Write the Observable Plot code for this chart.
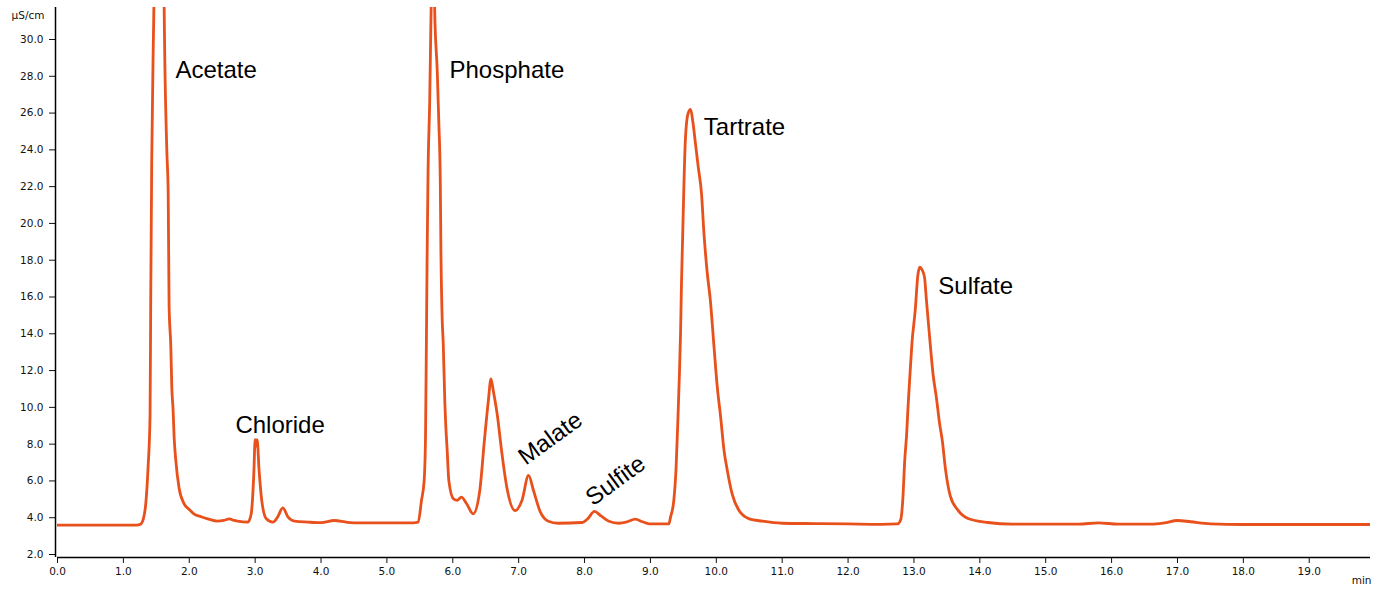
<!DOCTYPE html>
<html>
<head>
<meta charset="utf-8">
<script src="https://cdn.jsdelivr.net/npm/d3@7"></script>
<script src="https://cdn.jsdelivr.net/npm/@observablehq/plot@0.6"></script>
<style>
  html, body { margin: 0; padding: 0; background: #fff; }
  #chart svg { display: block; }
</style>
</head>
<body>
<div id="chart"></div>
<script>
// Retention time (min) and conductivity (µS/cm)
const times = [
  0.0, 1.20, 1.26, 1.30, 1.34, 1.375, 1.405, 1.415, 1.43, 1.46, 1.50, 1.56, 1.60,
  1.62, 1.66, 1.68, 1.694, 1.72, 1.735, 1.755, 1.77, 1.796, 1.846, 1.92, 2.0, 2.075,
  2.18, 2.28, 2.43, 2.52, 2.61, 2.68, 2.735, 2.89, 2.94, 2.98, 3.0, 3.015, 3.03, 3.06,
  3.10, 3.17, 3.27, 3.34, 3.42, 3.50, 3.60, 3.80, 4.0, 4.2, 4.4, 4.6, 5.0, 5.4,
  5.475, 5.525, 5.565, 5.586, 5.60, 5.61, 5.625, 5.65, 5.666, 5.70, 5.73, 5.764,
  5.79, 5.81, 5.82, 5.84, 5.855, 5.88, 5.895, 5.915, 5.94, 6.01, 6.07, 6.13, 6.21,
  6.31, 6.41, 6.48, 6.54, 6.58, 6.615, 6.68, 6.74, 6.82, 6.945, 7.05, 7.15, 7.225,
  7.33, 7.45, 7.60, 7.96, 8.05, 8.15, 8.25, 8.37, 8.52, 8.65, 8.77, 8.88, 8.98,
  9.28, 9.305, 9.355, 9.39, 9.42, 9.44, 9.457, 9.47, 9.49, 9.51, 9.53, 9.57, 9.61,
  9.645, 9.685, 9.726, 9.776, 9.81, 9.86, 9.91, 9.965, 10.015, 10.066, 10.117,
  10.167, 10.24, 10.345, 10.5, 10.7, 11.0, 11.5, 12.0, 12.5, 12.75, 12.8, 12.83,
  12.86, 12.89, 12.91, 12.94, 12.97, 13.02, 13.06, 13.09, 13.12, 13.16, 13.19,
  13.24, 13.29, 13.34, 13.39, 13.43, 13.48, 13.55, 13.67, 13.82, 14.12, 14.5, 15.5,
  15.8, 16.1, 16.6, 16.8, 17.0, 17.2, 17.5, 18.0, 19.93
];
const signal = [
  3.6, 3.6, 3.65, 3.9, 4.76, 6.75, 9.56, 15.8, 23.3, 31.0, 40, 44, 40,
  31.4, 23.9, 21.7, 15.5, 13.3, 11.1, 9.83, 8.4, 7.1, 5.6, 4.77, 4.45, 4.2,
  4.05, 3.94, 3.81, 3.85, 3.94, 3.85, 3.81, 3.76, 4.2, 6.4, 8.24, 7.9, 8.25, 6.57,
  4.94, 3.94, 3.76, 4.03, 4.54, 4.03, 3.81, 3.76, 3.73, 3.85, 3.75, 3.72, 3.72, 3.72,
  3.76, 4.94, 6.0, 8.38, 13.8, 18.0, 22.9, 26.7, 30.5, 36, 30.9, 28.3,
  25.3, 22.4, 18.5, 14.7, 13.5, 10.2, 8.92, 7.66, 6.02, 5.03, 4.95, 5.12, 4.76,
  4.21, 5.48, 8.2, 10.37, 11.55, 10.9, 9.47, 7.66, 5.66, 4.39, 4.94, 6.3, 5.48,
  4.3, 3.81, 3.7, 3.74, 3.95, 4.34, 4.1, 3.81, 3.7, 3.78, 3.92, 3.78, 3.67,
  3.67, 4.03, 4.94, 6.75, 9.65, 11.8, 14.0, 16.5, 19.4, 22.3, 24.5, 25.96, 26.2,
  25.5, 24.3, 23.06, 21.6, 19.6, 17.4, 15.8, 13.3, 11.1, 9.47, 7.66,
  6.57, 5.3, 4.39, 3.94, 3.81, 3.7, 3.68, 3.66, 3.64, 3.66, 3.9, 4.94,
  7.1, 8.6, 10.0, 11.8, 13.5, 15.3, 17.2, 17.62, 17.5, 17.08, 15.8,
  13.73, 11.8, 10.55, 9.1, 8.2, 6.6, 5.2, 4.4, 3.96, 3.74, 3.65, 3.65,
  3.72, 3.65, 3.65, 3.72, 3.85, 3.78, 3.67, 3.63, 3.63
];

// Peak annotations
const peakNames = ["Acetate", "Chloride", "Phosphate", "Tartrate", "Sulfate"];
const peakTimes = [1.79, 2.70, 5.95, 9.81, 13.37];
const peakLabelValues = [28.32, 9.01, 28.32, 25.22, 16.57];

const slantNames = ["Malate", "Sulfite"];
const slantTimes = [7.48, 8.47];
const slantValues = [8.31, 6.02];

const xTicks = d3.range(0, 20, 1);
const yTicks = d3.range(2, 31, 2);

const yMin = 1.837, yMax = 31.74;

const trace = times.map((t, i) => ({t, v: signal[i]}));
const peaks = peakNames.map((n, i) => ({n, t: peakTimes[i], v: peakLabelValues[i]}));
const slants = slantNames.map((n, i) => ({n, t: slantTimes[i], v: slantValues[i]}));

const fmt = d3.format(".1f");

const chart = Plot.plot({
  width: 1384,
  height: 589,
  marginLeft: 57,
  marginRight: 14,
  marginTop: 7,
  marginBottom: 32,
  x: {domain: [0, 19.93]},
  y: {domain: [yMin, yMax]},
  style: {fontFamily: "DejaVu Sans", fontSize: "10.5px", background: "#fff", color: "#111"},
  marks: [
    Plot.axisX({ticks: xTicks, tickFormat: fmt, tickSize: 6, tickPadding: 4, label: null}),
    Plot.axisY({ticks: yTicks, tickFormat: fmt, tickSize: 6, tickPadding: 6, label: null, dx: -2}),
    Plot.ruleY([yMin], {stroke: "#000", strokeWidth: 1.5}),
    Plot.ruleX([0], {stroke: "#000", strokeWidth: 1.5, dx: -2}),
    Plot.line(trace, {x: "t", y: "v", stroke: "#e8501c", strokeWidth: 2.8, curve: "monotone-x", clip: true}),
    Plot.text(peaks, {x: "t", y: "v", text: "n", textAnchor: "start", lineAnchor: "middle",
      fontSize: 24, fontFamily: "Liberation Sans, Arial, sans-serif", fill: "#000"}),
    Plot.text(slants, {x: "t", y: "v", text: "n", textAnchor: "middle", lineAnchor: "middle",
      rotate: -36, fontSize: 24, fontFamily: "Liberation Sans, Arial, sans-serif", fill: "#000"}),
    Plot.text(["µS/cm"], {frameAnchor: "top-left", dx: -13, dy: 8, textAnchor: "end", lineAnchor: "middle", fill: "#111"}),
    Plot.text(["min"], {frameAnchor: "bottom-right", dx: 1, dy: 23, textAnchor: "end", lineAnchor: "middle", fill: "#111"})
  ]
});
document.getElementById("chart").appendChild(chart);
</script>
</body>
</html>
